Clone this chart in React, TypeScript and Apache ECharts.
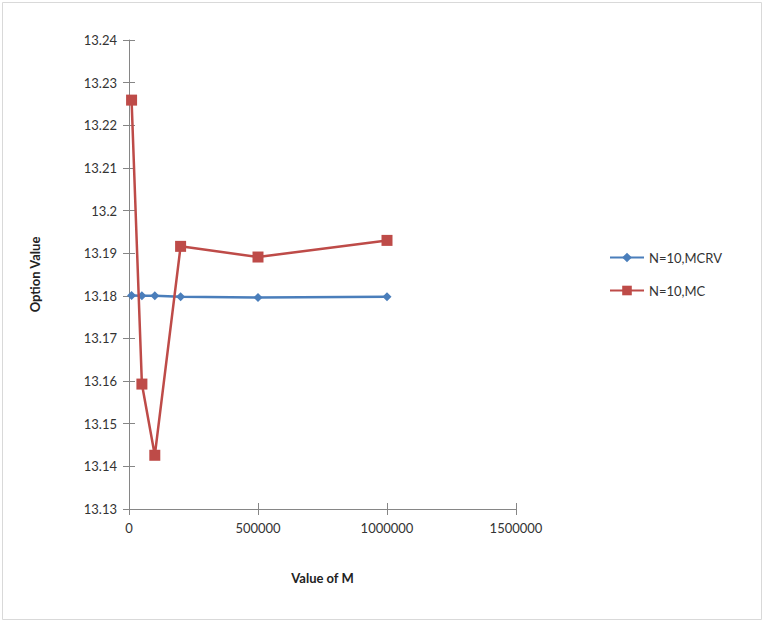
import React, { useEffect, useRef } from "react";
import * as echarts from "echarts";

const xValues = [10000, 50000, 100000, 200000, 500000, 1000000];
const mcrvValues = [13.1801, 13.18, 13.18, 13.1798, 13.1796, 13.1798];
const mcValues = [13.2259, 13.1593, 13.1426, 13.1916, 13.1891, 13.193];
const seriesNames = ["N=10,MCRV", "N=10,MC"];

export default function App() {
  const ref = useRef<HTMLDivElement>(null);
  useEffect(() => {
    if (!ref.current) return;
    const chart = echarts.init(ref.current, null, { renderer: "svg" });
    const font = "Lato, 'Open Sans', sans-serif";
    const axisLine = { show: true, lineStyle: { color: "#868686", width: 1 } };
    chart.setOption({
      animation: false,
      backgroundColor: "#ffffff",
      textStyle: { fontFamily: font },
      graphic: [
        {
          type: "rect",
          shape: { x: 2.5, y: 2.5, width: 759, height: 617 },
          style: { fill: "none", stroke: "#d9d9d9", lineWidth: 1 },
          silent: true,
        },
      ],
      grid: { left: 129, top: 40, width: 387, height: 469, containLabel: false },
      legend: {
        orient: "vertical",
        left: 604,
        top: 246,
        itemGap: 20,
        itemWidth: 34,
        itemHeight: 12,
        textStyle: { fontSize: 13, color: "#333", fontFamily: font },
        data: seriesNames,
      },
      xAxis: [
        {
          type: "value",
          min: 0,
          max: 1500000,
          interval: 500000,
          name: "Value of M",
          nameLocation: "middle",
          nameGap: 62,
          nameTextStyle: { fontWeight: "bold", fontSize: 13, color: "#222", fontFamily: font },
          axisLine,
          axisTick: { show: true, length: 6, inside: false, lineStyle: { color: "#868686" } },
          axisLabel: {
            fontSize: 13,
            color: "#333",
            margin: 12,
            fontFamily: font,
            formatter: (v: number) => String(v),
          },
          splitLine: { show: false },
        },
        {
          type: "value",
          position: "bottom",
          min: 0,
          max: 1500000,
          interval: 500000,
          axisLine: { show: false },
          axisTick: { show: true, length: 6, inside: true, lineStyle: { color: "#868686" } },
          axisLabel: { show: false },
          splitLine: { show: false },
        },
      ],
      yAxis: [
        {
          type: "value",
          min: 13.13,
          max: 13.24,
          interval: 0.01,
          name: "Option Value",
          nameLocation: "middle",
          nameGap: 88,
          nameTextStyle: { fontWeight: "bold", fontSize: 13, color: "#222", fontFamily: font },
          axisLine,
          axisTick: { show: true, length: 6, inside: false, lineStyle: { color: "#868686" } },
          axisLabel: {
            fontSize: 13,
            color: "#333",
            margin: 12,
            fontFamily: font,
            formatter: (v: number) => String(parseFloat(v.toFixed(2))),
          },
          splitLine: { show: false },
        },
        {
          type: "value",
          position: "left",
          min: 13.13,
          max: 13.24,
          interval: 0.01,
          axisLine: { show: false },
          axisTick: { show: true, length: 6, inside: true, lineStyle: { color: "#868686" } },
          axisLabel: { show: false },
          splitLine: { show: false },
        },
      ],
      series: [
        {
          name: seriesNames[0],
          type: "line",
          data: xValues.map((x, i) => [x, mcrvValues[i]]),
          symbol: "diamond",
          symbolSize: 9,
          lineStyle: { color: "#4A7EBB", width: 2.5 },
          itemStyle: { color: "#4A7EBB" },
          z: 3,
        },
        {
          name: seriesNames[1],
          type: "line",
          data: xValues.map((x, i) => [x, mcValues[i]]),
          symbol: "rect",
          symbolSize: 11,
          lineStyle: { color: "#BE4B48", width: 2.5 },
          itemStyle: { color: "#BE4B48" },
          z: 4,
        },
      ],
    });
    return () => chart.dispose();
  }, []);
  return (
    <div
      ref={ref}
      style={{ position: "fixed", left: 0, top: 0, width: 764, height: 622 }}
    />
  );
}
